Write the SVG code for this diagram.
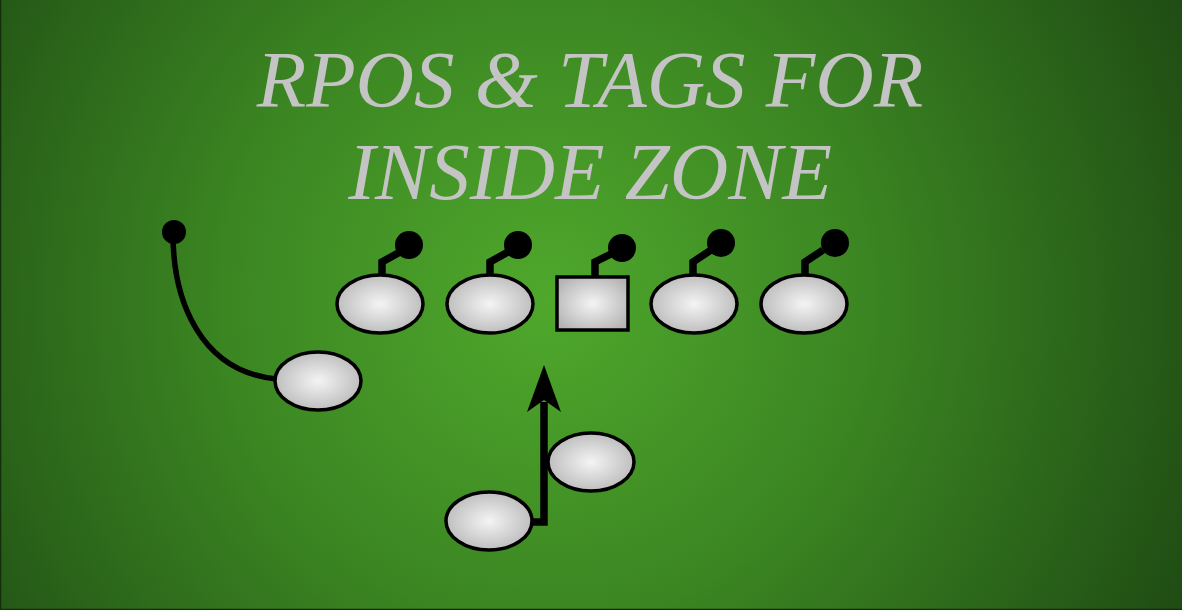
<svg xmlns="http://www.w3.org/2000/svg" width="1182" height="610" viewBox="0 0 1182 610">
<defs>
<radialGradient id="bg" cx="545" cy="300" r="720" gradientUnits="userSpaceOnUse">
<stop offset="0" stop-color="#4fa82c"/>
<stop offset="0.45" stop-color="#3b8522"/>
<stop offset="1" stop-color="#1e4a13"/>
</radialGradient>
<radialGradient id="pl" cx="0.5" cy="0.5" r="0.6">
<stop offset="0" stop-color="#f4f4f4"/>
<stop offset="1" stop-color="#b4b4b4"/>
</radialGradient>
<style>
.p{fill:url(#pl);stroke:#000;stroke-width:3.5}
.d{fill:#000}
.s{fill:none;stroke:#000;stroke-width:7.5;stroke-linejoin:miter}
.r{fill:none;stroke:#000;stroke-width:5.5;stroke-linecap:round}
.t{font-family:"Liberation Serif",serif;font-style:italic;font-size:81px;fill:#c4c4c4;text-anchor:middle}
</style>
</defs>
<rect width="1182" height="610" fill="url(#bg)"/>
<path d="M0.5,0 V609.5 H1182" fill="none" stroke="#122e0b" stroke-width="1.5"/>
<g id="title">
<text class="t" x="590" y="107">RPOS &amp; TAGS FOR</text>
<text class="t" x="590" y="199">INSIDE ZONE</text>
</g>
<g id="connectors">
<path class="r" d="M173,234 C173,300 200,372 277,379"/>
<path class="s" d="M532,522 H544 V402"/>
<path d="M544,365 L561,412 L544,400 L527,412 Z" fill="#000"/>
<path class="s" d="M382,277 V262 L400,252"/>
<path class="s" d="M490,277 V262 L508,252"/>
<path class="s" d="M595,277 V262 L613,253"/>
<path class="s" d="M693,277 V262 L711,250"/>
<path class="s" d="M805,277 V262 L823,250"/>
</g>
<g id="wr-dot"><circle class="d" cx="174" cy="232" r="12"/></g>
<g id="def1"><circle class="d" cx="409" cy="245" r="14"/></g>
<g id="def2"><circle class="d" cx="518" cy="245" r="14"/></g>
<g id="def3"><circle class="d" cx="622" cy="248" r="14"/></g>
<g id="def4"><circle class="d" cx="721" cy="243" r="14"/></g>
<g id="def5"><circle class="d" cx="835" cy="243" r="14"/></g>
<g id="lt"><ellipse class="p" cx="380" cy="304" rx="43" ry="29"/></g>
<g id="lg"><ellipse class="p" cx="490" cy="304" rx="43" ry="29"/></g>
<g id="c"><rect class="p" x="557" y="277" width="71" height="53"/></g>
<g id="rg"><ellipse class="p" cx="694" cy="304" rx="43" ry="29"/></g>
<g id="rt"><ellipse class="p" cx="804" cy="304" rx="43" ry="29"/></g>
<g id="wr"><ellipse class="p" cx="318" cy="381" rx="43" ry="29"/></g>
<g id="qb"><ellipse class="p" cx="591" cy="462" rx="43" ry="29"/></g>
<g id="rb"><ellipse class="p" cx="489" cy="521" rx="43" ry="29"/></g>
</svg>
